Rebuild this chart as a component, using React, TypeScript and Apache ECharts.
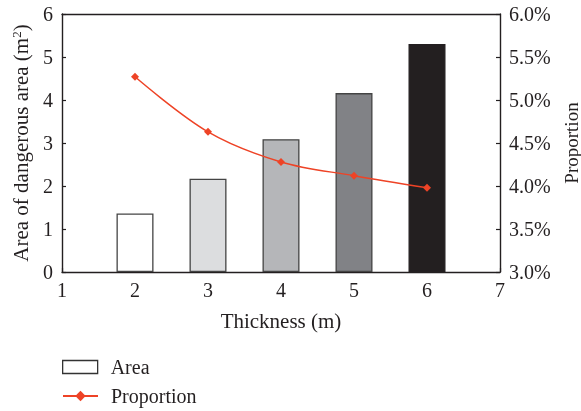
import React, { useEffect, useRef } from "react";
import * as echarts from "echarts";

const thickness = [2, 3, 4, 5, 6];
const areaValues = [1.36, 2.17, 3.09, 4.16, 5.3];
const proportionValues = [5.27, 4.63, 4.28, 4.12, 3.98];
const barColors = ["#ffffff", "#dcdddf", "#b5b6b9", "#818286", "#231f20"];
const leftTicks = [0, 1, 2, 3, 4, 5, 6];

const FONT = "Liberation Serif";
const AXIS_COLOR = "#231f20";
const RED = "#ee4326";

export default function App() {
  const ref = useRef<HTMLDivElement>(null);
  useEffect(() => {
    if (!ref.current) return;
    const chart = echarts.init(ref.current, undefined, { renderer: "svg" });
    const axisLine = { show: true, lineStyle: { color: AXIS_COLOR, width: 1.4 } };
    const axisTick = { show: true, inside: true, length: 4, lineStyle: { color: AXIS_COLOR, width: 1.2 } };
    const label = { color: AXIS_COLOR, fontFamily: FONT, fontSize: 20 };
    const legendText = { color: AXIS_COLOR, fontFamily: FONT, fontSize: 20, padding: [0, 0, 0, 8] };
    chart.setOption({
      animation: false,
      textStyle: { fontFamily: FONT },
      grid: { left: 62, right: 81, top: 14, bottom: 139, show: false, containLabel: false, outerBoundsMode: "none" },
      legend: [
        {
          orient: "vertical",
          left: 62,
          top: 357,
          padding: 0,
          itemWidth: 35,
          itemHeight: 13,
          textStyle: legendText,
          data: [
            { name: "Area", icon: "rect", itemStyle: { color: "#ffffff", borderColor: "#333333", borderWidth: 1.3 } },
          ],
        },
        {
          orient: "vertical",
          left: 62,
          top: 386,
          padding: 0,
          itemWidth: 35,
          itemHeight: 13,
          textStyle: legendText,
          data: [{ name: "Proportion" }],
        },
      ],
      xAxis: [
        {
          type: "value",
          min: 1,
          max: 7,
          interval: 1,
          name: "Thickness (m)",
          nameLocation: "middle",
          nameGap: 38,
          nameTextStyle: { color: AXIS_COLOR, fontFamily: FONT, fontSize: 21 },
          axisLine,
          axisTick,
          axisLabel: { ...label, margin: 8 },
          splitLine: { show: false },
        },
        {
          type: "value",
          position: "top",
          min: 1,
          max: 7,
          interval: 1,
          axisLine,
          axisTick: { show: false },
          axisLabel: { show: false },
          splitLine: { show: false },
        },
      ],
      yAxis: [
        {
          type: "value",
          min: leftTicks[0],
          max: leftTicks[leftTicks.length - 1],
          interval: 1,
          name: "{a|Area of dangerous area (m}{s|2}{a|)}",
          nameLocation: "middle",
          nameRotate: 90,
          nameGap: 30,
          nameTextStyle: {
            rich: {
              a: { fontFamily: FONT, fontSize: 21, color: AXIS_COLOR },
              s: { fontFamily: FONT, fontSize: 13, color: AXIS_COLOR, padding: [0, 0, 9, 0] },
            },
          },
          axisLine,
          axisTick,
          axisLabel: { ...label, margin: 9 },
          splitLine: { show: false },
        },
        {
          type: "value",
          min: 3,
          max: 6,
          interval: 0.5,
          name: "Proportion",
          nameLocation: "middle",
          nameRotate: 90,
          nameGap: 55,
          nameTextStyle: { color: AXIS_COLOR, fontFamily: FONT, fontSize: 19, lineHeight: 19 },
          axisLine,
          axisTick,
          axisLabel: { ...label, margin: 9, formatter: (v: number) => v.toFixed(1) + "%" },
          splitLine: { show: false },
        },
      ],
      series: [
        {
          name: "Area",
          type: "bar",
          xAxisIndex: 0,
          yAxisIndex: 0,
          barWidth: 37,
          itemStyle: { color: "#ffffff", borderColor: "#444444", borderWidth: 1.3 },
          data: thickness.map((t, i) => ({
            value: [t, areaValues[i]],
            itemStyle: { color: barColors[i], borderColor: i === 4 ? barColors[i] : "#444444" },
          })),
          z: 2,
        },
        {
          name: "Proportion",
          type: "line",
          xAxisIndex: 0,
          yAxisIndex: 1,
          smooth: 0.35,
          symbol: "diamond",
          symbolSize: 8,
          lineStyle: { color: RED, width: 1.5 },
          itemStyle: { color: RED },
          data: thickness.map((t, i) => [t, proportionValues[i]]),
          z: 3,
        },
      ],
    });
    return () => chart.dispose();
  }, []);
  return <div ref={ref} style={{ position: "fixed", left: 0, top: 0, width: 581, height: 411 }} />;
}
